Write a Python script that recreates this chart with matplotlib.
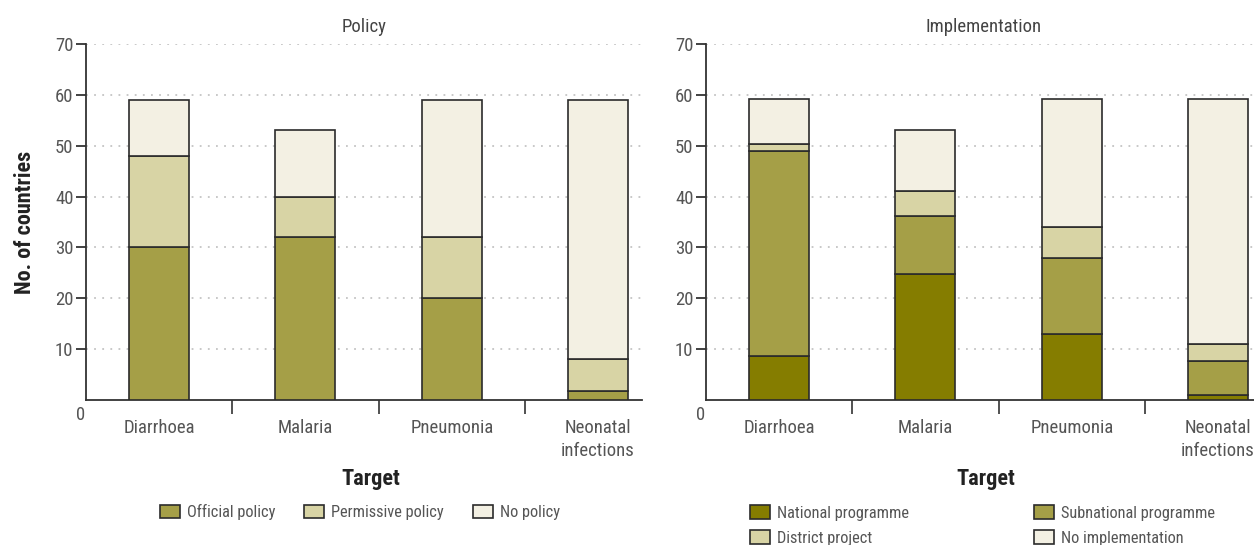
import matplotlib
matplotlib.use("Agg")
import matplotlib.pyplot as plt
import numpy as np
from matplotlib.patches import Patch

plt.rcParams['font.family'] = ['Roboto Condensed', 'Open Sans Condensed',
                               'Liberation Sans Narrow', 'Liberation Sans',
                               'DejaVu Sans']

targets = ["Diarrhoea", "Malaria", "Pneumonia", "Neonatal\ninfections"]

# policy panel
official = [30, 32, 20, 1.8]
permissive = [18, 8, 12, 6.2]
no_policy = [11, 13, 27, 51]

# implementation panel
national = [8.7, 24.8, 13, 0.9]
subnational = [40.3, 11.3, 15, 6.8]
district = [1.4, 4.9, 6, 3.3]
no_impl = [8.8, 12.1, 25.2, 48.2]

c_dark = "#857d00"
c_olive = "#a59f47"
c_light = "#d8d4a5"
c_pale = "#f3f0e3"
edge = "#2b2b2b"
txt = "#555555"

W, H = 1254, 545
fig = plt.figure(figsize=(W / 100, H / 100), dpi=100)
ax1 = fig.add_axes([86 / W, 145 / H, 556 / W, 356 / H])
ax2 = fig.add_axes([706 / W, 145 / H, 556 / W, 356 / H])

x = np.arange(len(targets))
bw = 0.41


def stack(ax, series, colors):
    bottom = np.zeros(len(targets))
    for vals, col in zip(series, colors):
        ax.bar(x, vals, bw, bottom=bottom, color=col, edgecolor=edge,
               linewidth=1.2, zorder=3)
        bottom += np.array(vals)


def style(ax, title):
    ax.set_xlim(-0.5, 3.3)
    ax.set_ylim(0, 70)
    ax.set_yticks(np.arange(10, 71, 10))
    ax.yaxis.grid(True, color="#c4c4c4", linewidth=1.3,
                  linestyle=(0, (1, 3.5)), zorder=0)
    ax.set_axisbelow(True)
    for s in ["top", "right"]:
        ax.spines[s].set_visible(False)
    for s in ["left", "bottom"]:
        ax.spines[s].set_color("#333333")
        ax.spines[s].set_linewidth(1.3)
    ax.tick_params(axis="y", direction="out", length=7, width=1.3,
                   color="#333333", labelcolor=txt, labelsize=13.5, pad=2)
    ax.set_xticks(x)
    ax.set_xticklabels(targets, linespacing=1.3)
    ax.tick_params(axis="x", which="major", length=0, labelcolor=txt,
                   labelsize=13.5, pad=14)
    ax.set_xticks([0.5, 1.5, 2.5], minor=True)
    ax.tick_params(axis="x", which="minor", direction="out", length=10,
                   width=1.2, color="#333333")
    ax.annotate("0", xy=(0, 0), xycoords="axes fraction", xytext=(-5, -15),
                textcoords="offset pixels", ha="center", va="center",
                fontsize=13.5, color=txt)
    ax.set_title(title, fontsize=13.5, color="#444444", pad=9)
    ax.set_xlabel("Target", fontsize=16, fontweight="bold", color="#222222")


stack(ax1, [official, permissive, no_policy], [c_olive, c_light, c_pale])
stack(ax2, [national, subnational, district, no_impl],
      [c_dark, c_olive, c_light, c_pale])
style(ax1, "Policy")
style(ax2, "Implementation")
ax1.xaxis.set_label_coords(285 / 556, -0.19)
ax2.xaxis.set_label_coords(280 / 556, -0.19)

ax1.set_ylabel("No. of countries", fontsize=16, fontweight="bold",
               color="#222222", labelpad=14)


def h(col):
    return Patch(facecolor=col, edgecolor=edge, linewidth=1.2)


leg_kw = dict(frameon=False, fontsize=11.8, handlelength=1.2,
              handleheight=0.9, handletextpad=0.45, borderpad=0,
              labelspacing=0.6)

leg1 = fig.legend([h(c_olive), h(c_light), h(c_pale)],
                  ["Official policy", "Permissive policy", "No policy"],
                  loc="center left", bbox_to_anchor=(152 / W, 1 - 512 / H),
                  ncol=3, columnspacing=1.75, **leg_kw)

leg2 = fig.legend([h(c_dark), h(c_light)],
                  ["National programme", "District project"],
                  loc="upper left", bbox_to_anchor=(742 / W, 1 - 497 / H),
                  **leg_kw)
leg3 = fig.legend([h(c_olive), h(c_pale)],
                  ["Subnational programme", "No implementation"],
                  loc="upper left", bbox_to_anchor=(1026 / W, 1 - 497 / H),
                  **leg_kw)
for leg in (leg1, leg2, leg3):
    for t in leg.get_texts():
        t.set_color(txt)

fig.savefig("out.png", dpi=100)
